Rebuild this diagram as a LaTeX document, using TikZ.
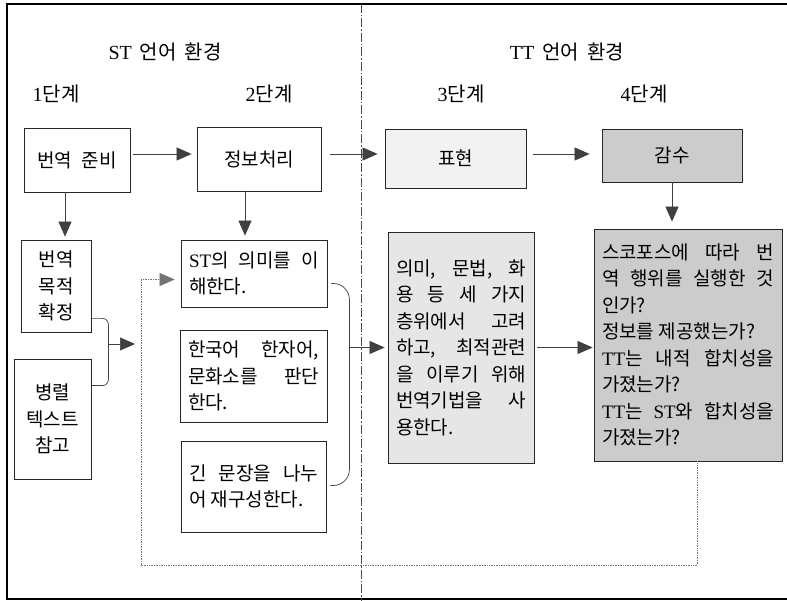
\documentclass[tikz,border=0pt]{standalone}
\usepackage{fontspec}
\setmainfont{Noto Sans CJK KR}
\newfontfamily\lat{Liberation Serif}
\usetikzlibrary{arrows.meta}
\tikzset{>={Triangle[length=15pt,width=13pt]}}
\definecolor{color1}{RGB}{242,242,242}
\definecolor{color2}{RGB}{230,230,230}
\definecolor{color3}{RGB}{204,204,204}
\def\boxline{0.8pt}
\tolerance=9999
\hbadness=10000
\tikzset{
    box/.style={draw=black!85, line width=\boxline, inner sep=0pt, align=center},
    para/.style={box, inner xsep=8pt, align=justify},
    head/.style={font=\fontsize{20pt}{22pt}\selectfont},
    flow/.style={->, draw=black!75, line width=0.7pt},
    loopback/.style={->, draw=black!55, densely dotted, line width=0.7pt}
}

\begin{document}
\begin{tikzpicture}[x=1pt, y=-1pt, font=\fontsize{19pt}{26.5pt}\selectfont]
    \useasboundingbox (0, 0) rectangle (787, 601);
    \draw[line width=1.2pt] (787, 4) -- (7, 4) -- (7, 599) -- (787, 599);
    \draw[black!70, line width=0.6pt, dash pattern=on 9pt off 2pt on 1.5pt off 2pt] (361, 4) -- (361, 601);
    \node[head] at (165, 52) (stenv) {{\lat ST}\hspace{0.4em}언어\hspace{0.4em}환경};
    \node[head] at (567, 52) (ttenv) {{\lat TT}\hspace{0.4em}언어\hspace{0.4em}환경};
    \node[head] at (56, 94) (step1) {{\lat 1}단계};
    \node[head] at (269, 94) (step2) {{\lat 2}단계};
    \node[head] at (461, 94) (step3) {{\lat 3}단계};
    \node[head] at (644, 94) (step4) {{\lat 4}단계};
    \node[box, minimum width=106pt, minimum height=64pt] at (77, 160) (prep) {번역\enspace 준비};
    \node[box, minimum width=124pt, minimum height=64pt] at (259, 159) (info) {정보처리};
    \node[box, fill=color1, minimum width=141pt, minimum height=59pt] at (455.5, 158.5) (expr) {표현};
    \node[box, fill=color3, minimum width=140pt, minimum height=53pt] at (672, 155.5) (review) {감수};
    \node[box, minimum width=70pt, minimum height=92pt] at (56, 286) (purpose) {번역\\목적\\확정};
    \node[box, minimum width=77pt, minimum height=120pt] at (52.5, 419) (parallel) {병렬\\텍스트\\참고};
    \node[para, text width=130pt, minimum height=67pt] at (254, 273.5) (grasp) {{\lat ST}의 의미를 이\linebreak 해한다.};
    \node[para, text width=131pt, minimum height=92pt] at (253.5, 376) (judge) {한국어 한자어,\linebreak 문화소를 판단\linebreak 한다.};
    \node[para, text width=129pt, minimum height=91pt] at (253.5, 486.5) (split) {긴 문장을 나누\linebreak 어 재구성한다.};
    \node[para, fill=color2, text width=130pt, minimum height=231pt] at (461, 347.5) (express) {의미, 문법, 화\linebreak 용 등 세 가지\linebreak 층위에서 고려\linebreak 하고, 최적관련\linebreak 을 이루기 위해\linebreak 번역기법을 사\linebreak 용한다.};
    \node[para, fill=color3, text width=172pt, minimum height=232pt] at (688, 345) (check) {스코포스에 따라 번\linebreak 역 행위를 실행한 것\linebreak 인가?\\ 정보를 제공했는가?\\ {\lat TT}는 내적 합치성을\linebreak 가졌는가?\\ {\lat TT}는 {\lat ST}와 합치성을\linebreak 가졌는가?};
    \draw[flow, shorten <=3pt, shorten >=5pt] ([yshift=6pt]prep.east) -- ([yshift=6pt]prep.east -| info.west);
    \draw[flow, shorten <=9pt, shorten >=7pt] ([yshift=5pt]info.east) -- ([yshift=5pt]info.east -| expr.west);
    \draw[flow, shorten <=7pt, shorten >=12pt] ([yshift=4.5pt]expr.east) -- ([yshift=4.5pt]expr.east -| review.west);
    \draw[flow, shorten >=3pt] ([xshift=-12pt]prep.south) -- ([xshift=-12pt]prep.south |- purpose.north);
    \draw[flow, shorten >=4pt] ([xshift=-14pt]info.south) -- ([xshift=-14pt]info.south |- grasp.north);
    \draw[flow, shorten >=7pt] (review.south) -- (review.south |- check.north);
    \draw[flow, -, rounded corners=6pt] ([yshift=14pt]purpose.south east) -- ++(17, 0) |- ([yshift=-27pt]parallel.north east);
    \coordinate (join1) at (108, 344);
    \coordinate (tip1) at (135, 344);
    \draw[flow] (join1) -- (tip1);
    \draw[flow, -, rounded corners=16pt] ([xshift=4pt, yshift=-10pt]grasp.east) -- ++(18, 0) |- ([xshift=4pt, yshift=1pt]split.east);
    \coordinate (join2) at (349, 347.5);
    \draw[flow, shorten >=3pt] (join2) -- (express.west);
    \draw[flow, shorten <=3pt, shorten >=1pt] (express.east) -- (check.west |- express.east);
    \coordinate (corner) at (141, 565);
    \draw[loopback, shorten >=6pt] ([xshift=9pt]check.south) |- (corner) |- ([yshift=-6pt]grasp.west);
\end{tikzpicture}
\end{document}
